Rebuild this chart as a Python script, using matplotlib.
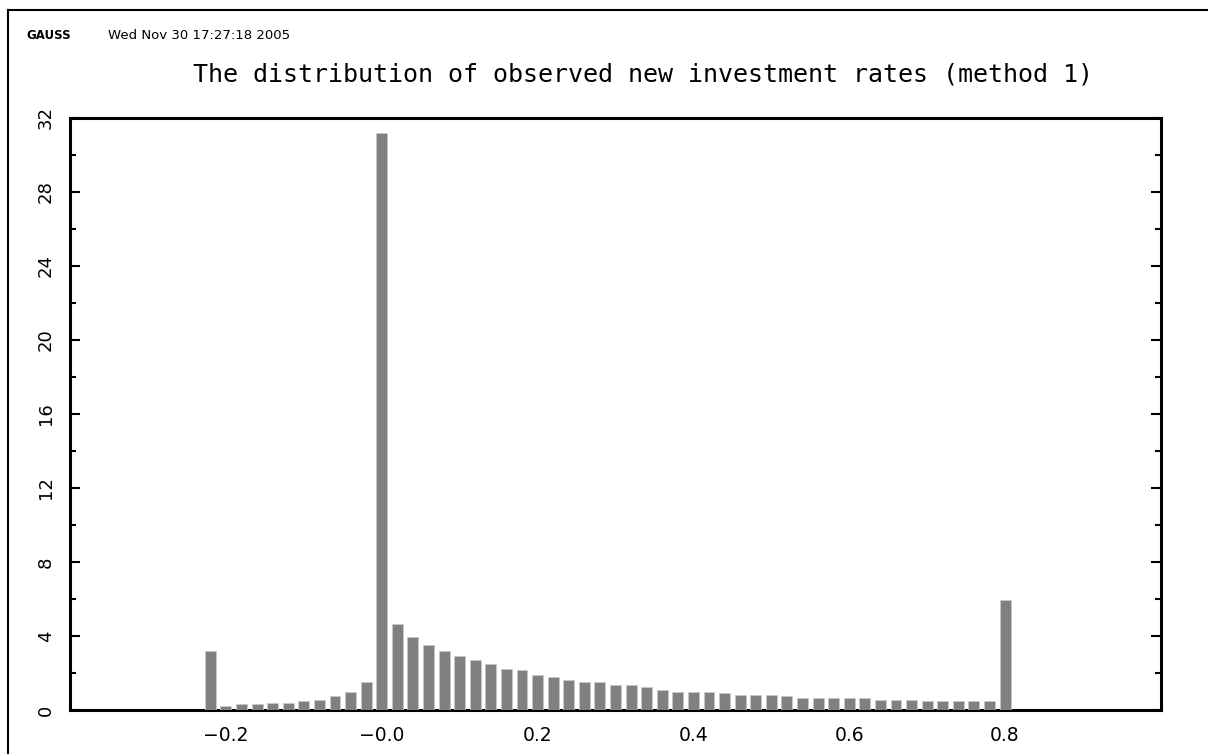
import numpy as np
import matplotlib
matplotlib.use("Agg")
import matplotlib.pyplot as plt
from matplotlib.lines import Line2D
from matplotlib.ticker import MultipleLocator, FixedLocator, FixedFormatter

# histogram of new investment rates, bins of width 0.02 starting at -0.22
bin_start = -0.22
bin_width = 0.02
percent = [3.20, 0.22, 0.32, 0.32, 0.40, 0.40, 0.51, 0.58, 0.76, 1.01, 1.53,
           31.15, 4.67, 3.97, 3.51, 3.19, 2.92, 2.74, 2.49, 2.24, 2.15,
           1.88, 1.79, 1.64, 1.53, 1.53, 1.37, 1.37, 1.26, 1.10, 1.01,
           1.01, 1.01, 0.92, 0.83, 0.83, 0.83, 0.76, 0.67, 0.67, 0.67,
           0.67, 0.67, 0.58, 0.58, 0.58, 0.49, 0.49, 0.49, 0.49, 0.49,
           5.95]
xtick_values = [-0.2, 0.0, 0.2, 0.4, 0.6, 0.8]
xtick_labels = ["\u22120.2", "\u22120.0", "0.2", "0.4", "0.6", "0.8"]
ytick_values = [0, 4, 8, 12, 16, 20, 24, 28, 32]

title = "The distribution of observed new investment rates (method 1)"
header_left = "GAUSS"
header_right = "Wed Nov 30 17:27:18 2005"

centers = bin_start + bin_width * np.arange(len(percent))

fig = plt.figure(figsize=(12.08, 7.54), dpi=100)
ax = fig.add_axes([0.058, 0.058, 0.903, 0.786])

ax.bar(centers, percent, width=0.014, color="#808080", edgecolor="#c8c8c8",
       linewidth=0.6, zorder=3)

ax.set_xlim(-0.4, 1.0)
ax.set_ylim(0, 32)

for s in ax.spines.values():
    s.set_linewidth(2.2)

ax.xaxis.set_major_locator(FixedLocator(xtick_values))
ax.xaxis.set_major_formatter(FixedFormatter(xtick_labels))
ax.tick_params(axis="x", length=0, pad=11, labelsize=13.5)

ax.yaxis.set_major_locator(FixedLocator(ytick_values))
ax.yaxis.set_minor_locator(MultipleLocator(2))
ax.tick_params(axis="y", which="major", direction="in", length=7, width=1.5,
               left=True, right=True, labelsize=13, pad=11)
ax.tick_params(axis="y", which="minor", direction="in", length=4, width=1.5,
               left=True, right=True)
for lab in ax.get_yticklabels():
    lab.set_rotation(90)
    lab.set_va("center")

fig.text(0.532, 0.901, title, ha="center", va="center", fontsize=18,
         family="DejaVu Sans Mono")
fig.text(0.022, 0.953, header_left, ha="left", va="center", fontsize=8.5,
         fontweight="bold")
fig.text(0.089, 0.953, header_right, ha="left", va="center", fontsize=9.5)

# outer frame (top and left edges only)
fig.add_artist(Line2D([0.0066, 1.0], [0.987, 0.987], transform=fig.transFigure,
                      color="black", linewidth=1.5))
fig.add_artist(Line2D([0.0066, 0.0066], [0.0, 0.987], transform=fig.transFigure,
                      color="black", linewidth=1.5))

fig.savefig("out.png", dpi=100)
